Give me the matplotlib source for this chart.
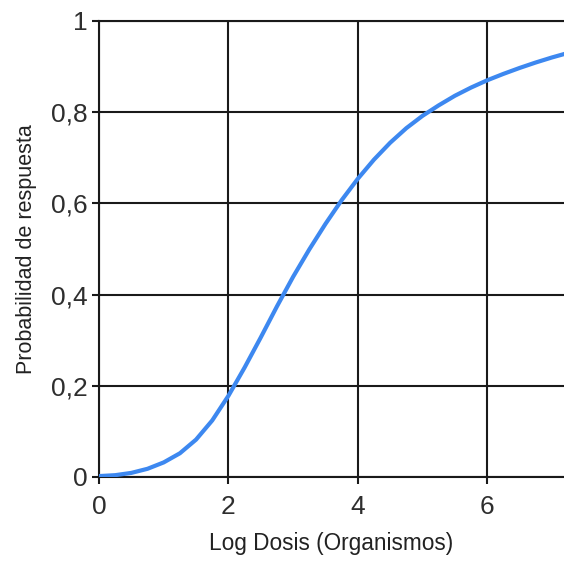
import matplotlib
matplotlib.use('Agg')
import matplotlib.pyplot as plt
from matplotlib.ticker import FuncFormatter

# curve (log dose vs response probability)
log_dose = [0.0, 0.25, 0.5, 0.75, 1.0, 1.25, 1.5, 1.75, 2.0, 2.25, 2.5, 2.75,
            3.0, 3.25, 3.5, 3.75, 4.0, 4.25, 4.5, 4.75, 5.0, 5.25, 5.5, 5.75,
            6.0, 6.25, 6.5, 6.75, 7.0, 7.25]
prob = [0.002, 0.004, 0.009, 0.018, 0.032, 0.052, 0.082, 0.124, 0.178, 0.240,
        0.306, 0.374, 0.439, 0.499, 0.555, 0.607, 0.654, 0.696, 0.733, 0.765,
        0.792, 0.815, 0.836, 0.854, 0.870, 0.884, 0.897, 0.909, 0.920, 0.930]

x_ticks = [0, 2, 4, 6]
y_ticks = [0, 0.2, 0.4, 0.6, 0.8, 1]

plt.rcParams['font.family'] = ['Liberation Sans', 'DejaVu Sans']

fig = plt.figure(figsize=(5.64, 5.63), dpi=100)
ax = fig.add_axes([99 / 564, 1 - 477 / 563, 1 - 99 / 564, 456 / 563])

ax.plot(log_dose, prob, color='#3d88f0', linewidth=3.0, solid_capstyle='round',
        solid_joinstyle='round', zorder=3)

ax.set_xlim(0, 465 / 64.7)
ax.set_ylim(0, 1)
ax.set_xticks(x_ticks)
ax.set_yticks(y_ticks)
ax.yaxis.set_major_formatter(FuncFormatter(lambda v, p: f'{v:g}'.replace('.', ',')))

ax.grid(True, color='#1a1a1a', linewidth=1.5, zorder=1)
for side in ['left', 'bottom', 'top']:
    ax.spines[side].set_color('#1a1a1a')
    ax.spines[side].set_linewidth(1.5)
ax.spines['right'].set_visible(False)

ax.tick_params(axis='both', direction='out', length=5, width=1.5, color='#1a1a1a',
               labelsize=19, labelcolor='#2e2e2e')
ax.tick_params(axis='x', pad=8)
ax.tick_params(axis='y', pad=3)

ax.set_xlabel('Log Dosis (Organismos)', size=16.3, color='#222222', labelpad=9)
ax.set_ylabel('Probabilidad de respuesta', size=15.5, color='#222222', labelpad=10)

fig.savefig('out.png', dpi=100)
